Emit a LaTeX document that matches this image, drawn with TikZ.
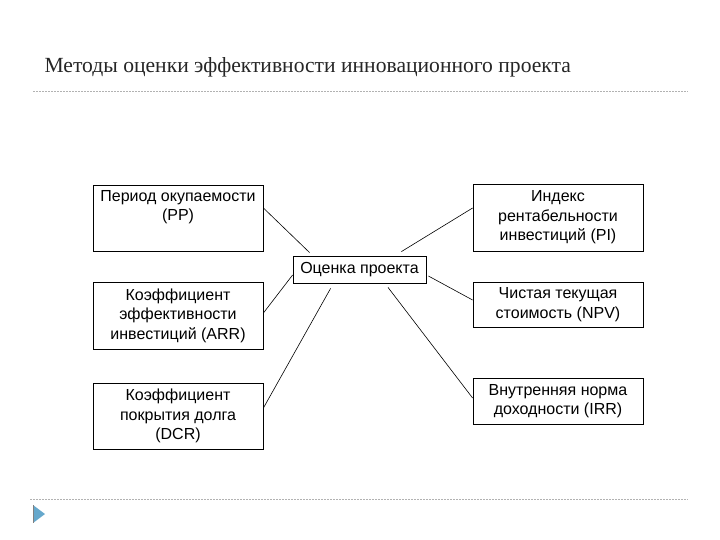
\documentclass[tikz,border=0pt]{standalone}
\usepackage{fontspec}
\setmainfont{Liberation Sans}
\newfontfamily\titlefont{Liberation Serif}
\usetikzlibrary{calc}

\begin{document}
\begin{tikzpicture}[x=1pt,y=-1pt,
  box/.style={draw,line width=0.8pt,minimum width=170pt,align=center,
    font=\fontsize{16}{19.5}\selectfont,inner sep=1pt},
  link/.style={line width=0.6pt},
  rule/.style={gray!60,dash pattern=on 2pt off 1pt,line width=0.8pt}]
\useasboundingbox (0,0) rectangle (720,540);

\node[anchor=base west,font=\titlefont\fontsize{21.6}{24}\selectfont,text=black!85]
  (title) at (41,73) {Методы оценки эффективности инновационного проекта};
\draw[rule] (33,91) -- (688,91);
\draw[rule] (30,499) -- (688,499);
\fill[blue!35!cyan!50!gray!80] (33,505) -- (45,514) -- (33,523) -- cycle;
\draw[gray,line width=0.8pt] (33,505) -- (33,523);

% centre
\node[box,minimum width=133pt,minimum height=27pt] (eval) at (359.5,269.5) {Оценка проекта};

% left column
\node[box,minimum height=66pt] (pp) at (178,218) {Период окупаемости\\(PP)\\\strut};
\node[box,minimum height=67pt] (arr) at (178,315.5) {Коэффициент\\эффективности\\инвестиций (ARR)};
\node[box,minimum height=66pt] (dcr) at (178,416) {Коэффициент\\покрытия долга\\(DCR)};

% right column
\node[box,minimum height=67pt] (pi) at (558,217.5) {Индекс\\рентабельности\\инвестиций (PI)};
\node[box,minimum height=45pt] (npv) at (558,304.5) {Чистая текущая\\стоимость (NPV)};
\node[box,minimum height=46pt] (irr) at (558,401) {Внутренняя норма\\доходности (IRR)};

\draw[link] ([yshift=10pt]pp.east) -- ([xshift=17pt,yshift=3pt]eval.north west);
\draw[link] ([yshift=9.5pt]pi.west) -- ([xshift=-25pt,yshift=4pt]eval.north east);
\draw[link] ([xshift=2pt,yshift=-6.5pt]eval.east) -- ([yshift=4.5pt]npv.west);
\draw[link] ([yshift=-5.5pt]eval.west) -- ([yshift=2.5pt]arr.east);
\draw[link] ([xshift=38pt,yshift=-5pt]eval.south west) -- ([yshift=8pt]dcr.east);
\draw[link] ([xshift=28.5pt,yshift=-4pt]eval.south) -- ([yshift=3pt]irr.west);
\end{tikzpicture}
\end{document}
